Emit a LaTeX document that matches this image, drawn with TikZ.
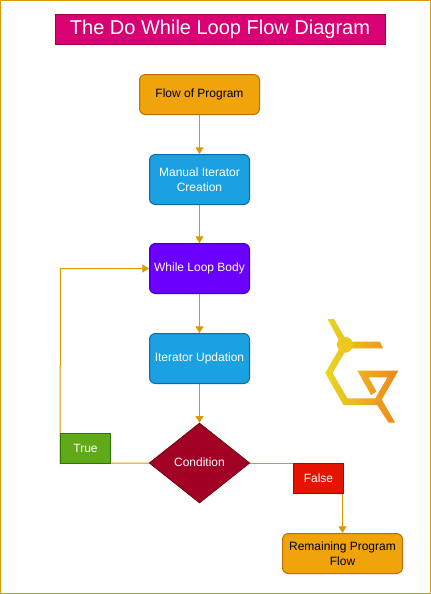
\documentclass[tikz,border=0pt]{standalone}
\usepackage{fontspec}
\setmainfont{Liberation Sans}
\usetikzlibrary{arrows.meta,shapes.geometric,backgrounds}
\definecolor{lnk}{HTML}{D79B00}
\definecolor{tfill}{HTML}{D80073}\definecolor{tline}{HTML}{A50040}
\definecolor{ofill}{HTML}{F0A30A}\definecolor{oline}{HTML}{BD7000}
\definecolor{bfill}{HTML}{1BA1E2}\definecolor{bline}{HTML}{006EAF}
\definecolor{pfill}{HTML}{6A00FF}\definecolor{pline}{HTML}{3700CC}
\definecolor{dfill}{HTML}{A20025}\definecolor{dline}{HTML}{6F0000}
\definecolor{gfill}{HTML}{60A917}\definecolor{gline}{HTML}{2D7600}
\definecolor{rfill}{HTML}{E51400}\definecolor{rline}{HTML}{B20000}
\definecolor{lgA}{HTML}{E8D824}\definecolor{lgB}{HTML}{EFC81E}\definecolor{lgD}{HTML}{F0861A}
\tikzset{
  x=0.75pt,y=-0.75pt,
  box/.style={rectangle,rounded corners=4.5pt,minimum width=75pt,minimum height=37.5pt,align=center,inner sep=0pt,line width=0.75pt,font=\fontsize{9}{11.25}\selectfont},
  orangebox/.style={box,fill=ofill,draw=oline,text=black,minimum width=90pt,minimum height=30pt},
  bluebox/.style={box,fill=bfill,draw=bline,text=white},
  purplebox/.style={box,fill=pfill,draw=pline,text=white},
  flag/.style={rectangle,minimum width=37.5pt,minimum height=22.5pt,inner sep=0pt,line width=0.75pt,text=white,font=\fontsize{9}{11.25}\selectfont},
  link/.style={draw=lnk,line width=0.75pt},
  arrowlink/.style={link,-{Triangle[length=5pt,width=6pt]}},
  logoshade/.style={left color=lgA,right color=lgD}
}
\begin{document}
\begin{tikzpicture}
\useasboundingbox (0,0) rectangle (431,594);
\node[rectangle,fill=tfill,draw=tline,line width=0.75pt,minimum width=247.5pt,minimum height=23pt,inner sep=0pt,text=white,font=\fontsize{15}{18}\selectfont] (title) at (220,29.5) {\raisebox{-0.5pt}{The Do While Loop Flow Diagram}};
\node[orangebox] (flow) at (199.5,94.5) {\raisebox{-0.5pt}{Flow of Program}};
\node[bluebox] (manual) at (199.5,179.5) {Manual Iterator\\Creation};
\node[purplebox] (body) at (199.5,268.5) {While Loop Body};
\node[bluebox] (update) at (199.5,358.5) {Iterator Updation};
\node[diamond,aspect=1.25,fill=dfill,draw=dline,line width=0.5pt,minimum width=75.5pt,minimum height=60pt,inner sep=0pt,text=white,font=\fontsize{9}{11.25}\selectfont] (cond) at (199.5,463) {\raisebox{1.5pt}{Condition}};
\node[flag,fill=gfill,draw=gline] (true) at (85.5,448) {True};
\node[flag,fill=rfill,draw=rline] (false) at (318.5,478) {False};
\node[orangebox] (rest) at (342.5,553.5) {Remaining Program\\Flow};
\coordinate (corner) at (60.5,268.5);
\begin{scope}[on background layer]
\fill[white] (0,0) rectangle (431,594);
\draw[lnk,line width=0.9pt] (0.6,0.6) rectangle (430.4,593.4);
\draw[arrowlink] (flow) -- (manual);
\draw[arrowlink] (manual) -- (body);
\draw[arrowlink] (body) -- (update);
\draw[arrowlink] (update) -- (cond);
\draw[arrowlink] (cond.west) -- (true.south west) -- (corner) -- (body.west);
\draw[link] (cond.east) -- (false.west |- cond.east);
\draw[arrowlink] (rest.north |- false.south) -- (rest.north);
\end{scope}
% logo
\path[logoshade]
  (327.5,319) -- (334,319) -- (349,345) -- (332.5,373) -- (347.5,398.3) -- (381,398.3) -- (395,422.5) -- (388.5,422.5) -- (377,405) -- (343.5,405) -- (325.2,373) -- (341.5,345) -- cycle
  (345,341.7) -- (380,341.7) -- (383,348.3) -- (345,348.3) -- cycle
  (357.5,370.7) -- (398.3,370.7) -- (381,401) -- (375.5,398) -- (387.5,377.3) -- (368.5,377.3) -- (376.5,391.5) -- (371,395) -- cycle;
\fill[lgB] (345,344.7) circle[radius=8];
\end{tikzpicture}
\end{document}
